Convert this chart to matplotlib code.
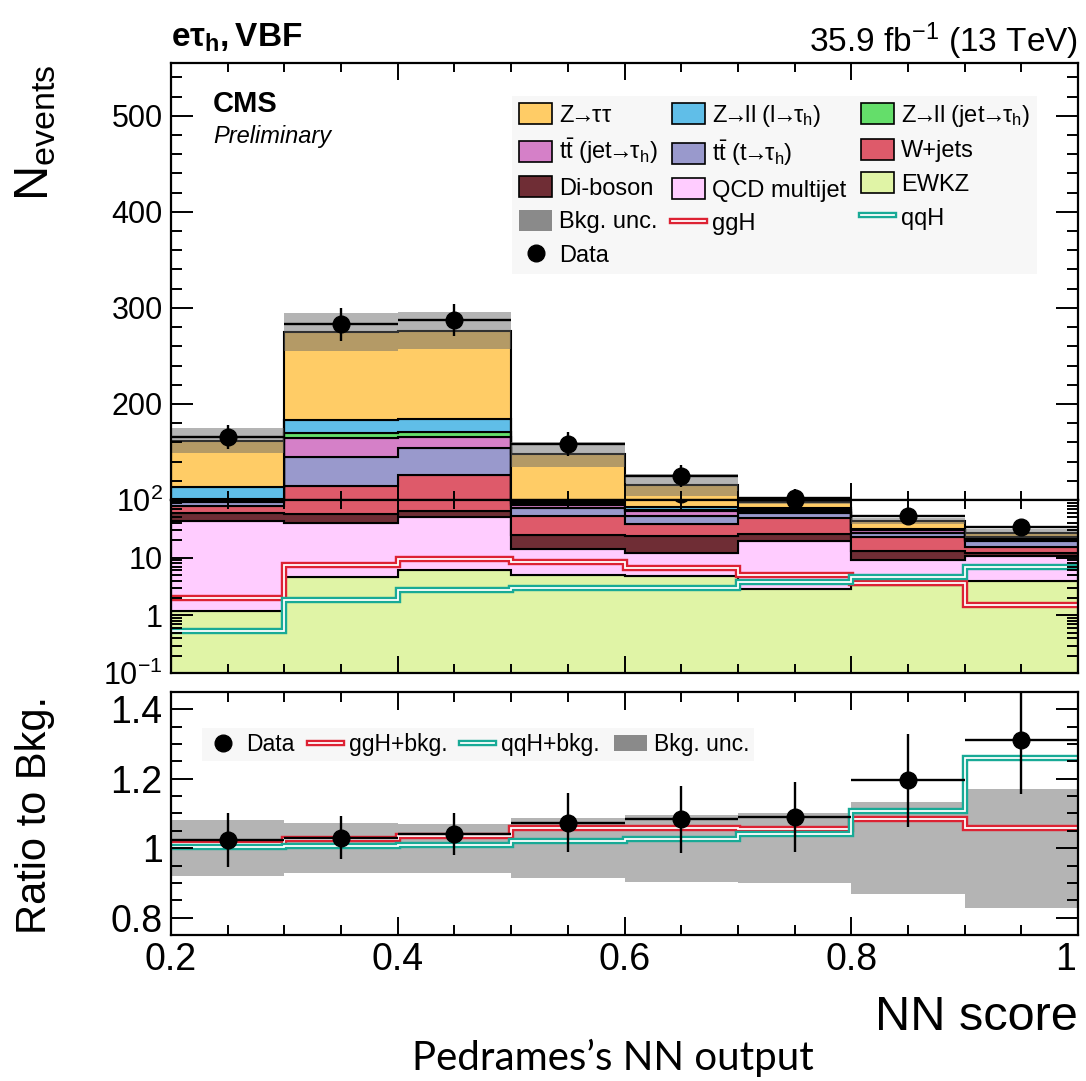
import numpy as np
import matplotlib
matplotlib.use("Agg")
import matplotlib.pyplot as plt
import matplotlib.patheffects as pe
import matplotlib.transforms as mtrans
from matplotlib.patches import Patch
from matplotlib.lines import Line2D
from matplotlib.ticker import MultipleLocator, FixedLocator, FixedFormatter, LogLocator, NullFormatter, FuncFormatter

plt.rcParams['font.family'] = ['Liberation Sans', 'DejaVu Sans']
plt.rcParams['mathtext.fontset'] = 'custom'
plt.rcParams['mathtext.rm'] = 'Liberation Sans'
plt.rcParams['mathtext.it'] = 'Liberation Sans:italic'
plt.rcParams['mathtext.bf'] = 'Liberation Sans:bold'

# NN score binning
edges = np.array([0.2, 0.3, 0.4, 0.5, 0.6, 0.7, 0.8, 0.9, 1.0])

# background yields per bin (stacked bottom -> top)
ewkz     = [1.2, 4.6, 6.1, 5.0, 4.8, 2.9, 3.4, 4.0]
qcd      = [42.5, 34.9, 45.2, 9.0, 7.1, 16.6, 5.7, 6.7]
diboson  = [15.1, 17.0, 13.9, 10.7, 12.1, 6.2, 4.0, 1.2]
wjets    = [19.9, 58.1, 60.8, 28.0, 14.4, 22.5, 10.0, 3.6]
tt_t     = [13.3, 29.9, 28.5, 20.8, 14.3, 10.7, 3.9, 4.0]
tt_jet   = [6.0, 19.8, 11.5, 8.4, 11.7, 3.8, 3.0, 1.0]
zll_jet  = [3.0, 5.2, 4.5, 5.8, 1.6, 4.3, 0.5, 0.8]
zll_l    = [12.2, 13.8, 14.2, 8.3, 10.0, 4.8, 0.9, 1.2]
ztt      = [48.6, 91.4, 91.7, 51.6, 39.6, 21.6, 12.1, 3.8]
bkg_unc  = [13.0, 20.0, 19.5, 12.8, 11.2, 9.4, 5.8, 4.5]

# signals
ggh = [2.0, 7.5, 9.4, 8.5, 6.6, 5.1, 3.6, 1.5]
qqh = [0.54, 1.85, 2.7, 2.95, 2.95, 3.8, 4.6, 6.8]

# observed
data     = [165.5, 283.0, 287.5, 158.5, 125.2, 101.8, 52.0, 34.5]
data_err = [12.5, 17.0, 16.6, 12.5, 11.2, 9.3, 5.8, 4.1]

ARR = r'$\!\!\rightarrow\!\!$'
TAUH = r'τ$_{\mathrm{h}}$'
TT = r'$\mathrm{t\bar{t}}$'
stack = [
    (ewkz, '#e0f4a6', 'EWKZ'),
    (qcd, '#ffccff', 'QCD multijet'),
    (diboson, '#6f2d35', 'Di-boson'),
    (wjets, '#de5a6a', 'W+jets'),
    (tt_t, '#9999cc', TT + ' (t' + ARR + TAUH + ')'),
    (tt_jet, '#d580c8', TT + ' (jet' + ARR + TAUH + ')'),
    (zll_jet, '#64de6a', 'Z' + ARR + 'll (jet' + ARR + TAUH + ')'),
    (zll_l, '#60bee8', 'Z' + ARR + 'll (l' + ARR + TAUH + ')'),
    (ztt, '#ffcc66', 'Z' + ARR + 'ττ'),
]
GGH_COL = '#dd2233'
QQH_COL = '#18aa96'
UNC_COL = '#666666'
UNC_ALPHA = 0.49

centers = 0.5 * (edges[1:] + edges[:-1])
halfw = 0.5 * np.diff(edges)
total = np.sum([np.array(v) for v, _, _ in stack], axis=0)
unc = np.array(bkg_unc)
ggh = np.array(ggh)
qqh = np.array(qqh)
data = np.array(data)
data_err = np.array(data_err)


def dbl(col):
    return [pe.Stroke(linewidth=4.6, foreground=col), pe.Normal()]


def draw_main(ax):
    base = np.full(len(centers), 1e-3)
    for vals, col, _ in stack:
        top = base + np.array(vals)
        ax.stairs(top, edges, baseline=base, fill=True, facecolor=col,
                  edgecolor='black', lw=1.5)
        base = top
    ax.stairs(total + unc, edges, baseline=total - unc, fill=True,
              facecolor=UNC_COL, alpha=UNC_ALPHA, lw=0)
    ax.stairs(ggh, edges, baseline=None, color='white', lw=1.3,
              path_effects=dbl(GGH_COL))
    ax.stairs(qqh, edges, baseline=None, color='white', lw=1.3,
              path_effects=dbl(QQH_COL))
    ax.errorbar(centers, data, xerr=halfw, yerr=data_err, fmt='o', color='black',
                ms=12, elinewidth=1.7, capsize=0, zorder=5)


fig = plt.figure(figsize=(10.86, 10.81), dpi=100)
L, W = 0.1575, 0.8351
ax_lin = fig.add_axes([L, 0.5375, W, 0.4042])
ax_log = fig.add_axes([L, 0.3774, W, 0.1601])
ax_rat = fig.add_axes([L, 0.1351, W, 0.2248])

draw_main(ax_lin)
draw_main(ax_log)

ax_lin.set_ylim(100, 555)
ax_log.set_yscale('log')
ax_log.set_ylim(0.1, 100)

# ratio panel
ax_rat.stairs(1 + unc / total, edges, baseline=1 - unc / total, fill=True,
              facecolor=UNC_COL, alpha=UNC_ALPHA, lw=0)
ax_rat.stairs(1 + ggh / total, edges, baseline=None, color='white', lw=1.3,
              path_effects=dbl(GGH_COL))
ax_rat.stairs(1 + qqh / total, edges, baseline=None, color='white', lw=1.3,
              path_effects=dbl(QQH_COL))
ax_rat.errorbar(centers, data / total, xerr=halfw, yerr=data_err / total, fmt='o',
                color='black', ms=12, elinewidth=1.7, capsize=0, zorder=5)
ax_rat.set_ylim(0.75, 1.45)

fmt_g = FuncFormatter(lambda v, p: f'{v:g}')
for ax in (ax_lin, ax_log, ax_rat):
    ax.set_xlim(0.2, 1.0)
    ax.xaxis.set_major_locator(MultipleLocator(0.2))
    ax.xaxis.set_minor_locator(MultipleLocator(0.05))
    ax.tick_params(which='both', direction='in', top=True, right=True, width=1.4)
    ax.tick_params(axis='x', which='major', length=12)
    ax.tick_params(axis='x', which='minor', length=6.5)
    ax.tick_params(axis='y', which='major', length=16)
    ax.tick_params(axis='y', which='minor', length=8)
    for s in ax.spines.values():
        s.set_linewidth(1.6)
for ax in (ax_lin, ax_log):
    ax.tick_params(axis='x', labelbottom=False)
    ax.tick_params(axis='y', labelsize=22, pad=6)

ax_lin.yaxis.set_major_locator(FixedLocator([200, 300, 400, 500]))
ax_lin.yaxis.set_minor_locator(MultipleLocator(20))

ax_log.yaxis.set_major_locator(FixedLocator([0.1, 1, 10, 100]))
ax_log.yaxis.set_major_formatter(FixedFormatter([r'$10^{-1}$', '1', '10', r'$10^{2}$']))
ax_log.yaxis.set_minor_locator(LogLocator(base=10, subs=np.arange(2, 10)))
ax_log.yaxis.set_minor_formatter(NullFormatter())

ax_rat.yaxis.set_major_locator(MultipleLocator(0.2))
ax_rat.yaxis.set_minor_locator(MultipleLocator(0.05))
ax_rat.yaxis.set_major_formatter(fmt_g)
ax_rat.xaxis.set_major_formatter(fmt_g)
ax_rat.tick_params(axis='both', labelsize=27)
ax_rat.tick_params(axis='x', pad=5)
ax_rat.tick_params(axis='y', pad=6)
ax_rat.tick_params(axis='x', which='major', length=13)
ax_rat.tick_params(axis='x', which='minor', length=7.5)

# legends
def box(col):
    return Patch(facecolor=col, edgecolor='black', lw=1.2)

unc_h = Patch(facecolor=UNC_COL, alpha=0.75, lw=0)
data_h = Line2D([], [], marker='o', color='black', ls='none', ms=12)
ggh_h = Line2D([], [], color='white', lw=1.3, path_effects=dbl(GGH_COL))
qqh_h = Line2D([], [], color='white', lw=1.3, path_effects=dbl(QQH_COL))
sd = {lab: col for _, col, lab in stack}
labs = [l for _, _, l in stack]
order = [labs[8], labs[5], labs[2], 'Bkg. unc.', 'Data',
         labs[7], labs[4], labs[1], 'ggH',
         labs[6], labs[3], labs[0], 'qqH']
special = {'Bkg. unc.': unc_h, 'Data': data_h, 'ggH': ggh_h, 'qqH': qqh_h}
hands = [special.get(l) or box(sd[l]) for l in order]
leg = ax_lin.legend(hands, order, ncol=3, loc='upper left', bbox_to_anchor=(0.376, 0.925),
                    fontsize=17, frameon=True, facecolor='#f7f7f7', edgecolor='none',
                    framealpha=1, fancybox=False, handlelength=1.4, handleheight=1.0,
                    handletextpad=0.3, columnspacing=0.6, labelspacing=0.42,
                    borderpad=0.3, borderaxespad=0)
leg.set_zorder(10)

ax_rat.legend([data_h, ggh_h, qqh_h, unc_h],
              ['Data', 'ggH+bkg.', 'qqH+bkg.', 'Bkg. unc.'], ncol=4,
              loc='upper left', bbox_to_anchor=(0.034, 0.85), fontsize=16.5,
              frameon=True, facecolor='#f7f7f7', edgecolor='none', framealpha=1,
              fancybox=False, handlelength=1.45, handletextpad=0.3,
              columnspacing=0.6, borderpad=0.2, borderaxespad=0)

# keep the "1" at the right end inside the canvas
fig.canvas.draw()
for tick in ax_rat.xaxis.get_major_ticks():
    if abs(tick.get_loc() - 1.0) < 1e-6:
        tick.label1.set_horizontalalignment('right')
        tick.label1.set_transform(tick.label1.get_transform()
                                  + mtrans.ScaledTranslation(-1.5 / 72, 0, fig.dpi_scale_trans))

# labels and titles
fig.text(0.1575, 0.9565, r'$\mathbf{e\tau_{h},VBF}$', fontsize=24, va='baseline')
fig.text(0.9926, 0.952, r'35.9 fb$^{-1}$ (13 TeV)', fontsize=24, ha='right', va='baseline')
fig.text(0.196, 0.8964, 'CMS', fontsize=21, fontweight='bold', va='baseline')
fig.text(0.196, 0.8677, 'Preliminary', fontsize=17, style='italic', va='baseline')
fig.text(0.033, 0.94, r'N$_{\mathrm{events}}$', fontsize=35, rotation=90,
         ha='center', va='top')
fig.text(0.032, 0.246, 'Ratio to Bkg.', fontsize=30, rotation=90, ha='center', va='center')
fig.text(0.9926, 0.047, 'NN score', fontsize=35, ha='right', va='baseline')
fig.text(0.564, 0.0102, 'Pedrames\u2019s NN output', fontsize=29, ha='center',
         va='baseline', family='Lato')

fig.savefig('out.png', dpi=100)
